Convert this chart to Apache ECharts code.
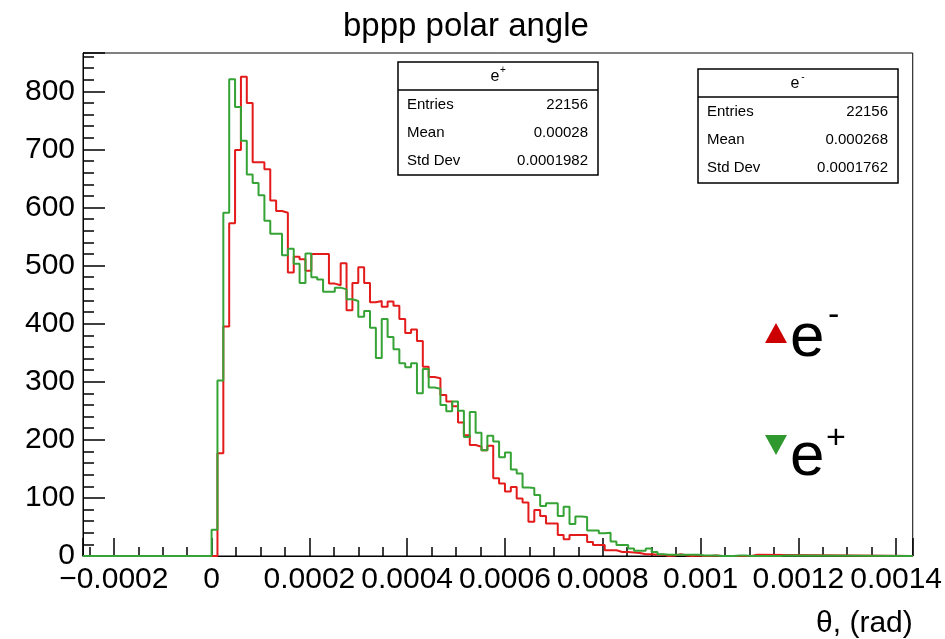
<!DOCTYPE html>
<html><head><meta charset="utf-8">
<script src="https://cdn.jsdelivr.net/npm/echarts@6/dist/echarts.min.js"></script>
<style>html,body{margin:0;padding:0;background:#fff}#c{width:945px;height:639px}</style>
</head><body><div id="c"></div>
<script>
// ---- data ----
const chartTitle = 'bppp polar angle';
const xAxisTitle = 'θ, (rad)';
const binStart = 0;
const binWidth = 0.000012;
const xRange = [-0.000263, 0.001434];
const yRange = [0, 866];
const xTickStep = 0.0002;
const yTickStep = 100;
// e- (red) counts per bin, starting at binStart
const eMinusCounts = [0,177,395,573,699,825,780,678,678,666,612,594,591,488,515,511,491,520,520,520,
  469,466,504,423,470,497,470,437,439,429,438,431,408,384,390,370,326,308,306,277,
  266,258,230,208,191,188,182,190,134,125,111,119,99,92,59,79,69,56,56,36,
  29,36,36,36,24,19,19,10,10,7,7,6,5,3,3,2,2,0,1,3,
  1,0,1,0,0,1,0,0,0,0,0,0,2];
// e+ (green) counts per bin
const ePlusCounts = [45,302,591,821,773,715,657,642,621,577,555,555,518,529,503,470,521,480,476,455,
  455,462,459,442,439,412,422,393,341,408,377,356,332,325,332,280,322,290,288,260,
  249,266,250,205,248,212,182,207,197,170,178,149,142,118,117,105,86,91,91,69,
  85,55,68,67,44,44,39,40,25,19,19,13,9,9,13,7,3,2,2,2,
  2,2,2,1,1,1,0,0,0,1,1,0,0,0,0,0,0,1];
const statLabels = ['Entries', 'Mean', 'Std Dev'];
const statsEPlus = ['22156', '0.00028', '0.0001982'];
const statsEMinus = ['22156', '0.000268', '0.0001762'];
const seriesNames = ['e-', 'e+'];
const seriesColors = ['#e31b1b', '#35a335'];
const markerColors = ['#cc0000', '#2f992f'];

// ---- build ----
function histPoints(counts) {
  const pts = [[xRange[0], 0]];
  counts.forEach((v, k) => pts.push([binStart + k * binWidth, v]));
  pts.push([binStart + counts.length * binWidth, 0]);
  pts.push([xRange[1], 0]);
  return pts;
}
const FONT = 'Liberation Sans, Arial, Helvetica, sans-serif';
function txt(x, y, text, size, align, color) {
  return {type: 'text', x: x, y: y, z: 100,
    style: {text: text, fill: color || '#000', font: size + 'px ' + FONT,
      fontSize: size, fontFamily: FONT,
      align: align, textAlign: align, verticalAlign: 'middle', textVerticalAlign: 'middle'}};
}
function statsBox(x, y, w, h, headH, sup, vals) {
  const ch = [
    {type: 'rect', shape: {x: x, y: y, width: w, height: h}, z: 90,
      style: {fill: '#fff', stroke: '#000', lineWidth: 1.5}},
    {type: 'line', shape: {x1: x, y1: y + headH, x2: x + w, y2: y + headH}, z: 91,
      style: {stroke: '#000', lineWidth: 1.5}},
    txt(x + w / 2 - 3, y + headH / 2 + 1, 'e', 16, 'center'),
    txt(x + w / 2 + 5, y + headH / 2 - 6, sup, 10, 'center')
  ];
  statLabels.forEach((lab, i) => {
    const ry = y + headH + 15 + i * 28;
    ch.push(txt(x + 9, ry, lab, 15, 'left'));
    ch.push(txt(x + w - 10, ry, vals[i], 15, 'right'));
  });
  return ch;
}
function tri(cx, cy, up, color) {
  const hw = 11, hh = 10;
  const pts = up ? [[cx - hw, cy + hh], [cx + hw, cy + hh], [cx, cy - hh]]
                 : [[cx - hw, cy - hh], [cx + hw, cy - hh], [cx, cy + hh]];
  return {type: 'polygon', shape: {points: pts}, z: 100, style: {fill: color}};
}
const graphics = [].concat(
  statsBox(398, 62, 200, 113, 28, '+', statsEPlus),
  statsBox(698, 69, 200, 114, 28, '-', statsEMinus),
  [tri(776, 333, true, markerColors[0]),
   txt(790, 339, 'e', 62, 'left'),
   txt(828, 316, '-', 34, 'left'),
   tri(776, 445, false, markerColors[1]),
   txt(790, 458, 'e', 62, 'left'),
   txt(826, 439, '+', 34, 'left')]
);
function isMult(v, step) { const r = v / step; return Math.abs(r - Math.round(r)) < 1e-6; }
const chart = echarts.init(document.getElementById('c'), null, {renderer: 'canvas'});
chart.setOption({
  animation: false,
  backgroundColor: '#fff',
  title: {text: chartTitle, left: 338, top: 5,
    textStyle: {fontSize: 33, fontWeight: 'normal', color: '#000', fontFamily: FONT}},
  grid: {left: 83, right: 32, top: 53, bottom: 83, show: true, borderColor: '#000', borderWidth: 1, containLabel: false},
  xAxis: {
    type: 'value', min: xRange[0], max: xRange[1], splitNumber: 8,
    name: xAxisTitle, nameLocation: 'end', nameGap: 0,
    nameTextStyle: {fontSize: 30, color: '#000', fontFamily: FONT, align: 'right', verticalAlign: 'top', padding: [53, 0, 0, 0]},
    axisLine: {show: true, onZero: false, lineStyle: {color: '#000', width: 1}},
    axisTick: {show: true, inside: true, length: 18, lineStyle: {color: '#000', width: 1.5}},
    minorTick: {show: true, splitNumber: 4, length: 9, lineStyle: {color: '#000', width: 1.5}},
    splitLine: {show: false},
    axisLabel: {fontSize: 30, color: '#000', fontFamily: FONT, margin: 9,
      formatter: v => isMult(v, xTickStep) ? String(Math.round(v / xTickStep) * 2 / 10000).replace('-', '\u2212') : ''}
  },
  yAxis: {
    type: 'value', min: yRange[0], max: yRange[1], interval: yTickStep,
    axisLine: {show: true, onZero: false, lineStyle: {color: '#000', width: 1}},
    axisTick: {show: true, inside: true, length: 22, lineStyle: {color: '#000', width: 1.5}},
    minorTick: {show: true, splitNumber: 5, length: 11, lineStyle: {color: '#000', width: 1.5}},
    splitLine: {show: false},
    axisLabel: {fontSize: 30, color: '#000', fontFamily: FONT, margin: 8,
      formatter: v => isMult(v, yTickStep) ? String(Math.round(v)) : ''}
  },
  series: [
    {name: seriesNames[0], type: 'line', step: 'end', symbol: 'none', showSymbol: false,
      data: histPoints(eMinusCounts), lineStyle: {color: seriesColors[0], width: 2}, itemStyle: {color: seriesColors[0]}, z: 2},
    {name: seriesNames[1], type: 'line', step: 'end', symbol: 'none', showSymbol: false,
      data: histPoints(ePlusCounts), lineStyle: {color: seriesColors[1], width: 2}, itemStyle: {color: seriesColors[1]}, z: 3}
  ],
  graphic: graphics
});
</script></body></html>
